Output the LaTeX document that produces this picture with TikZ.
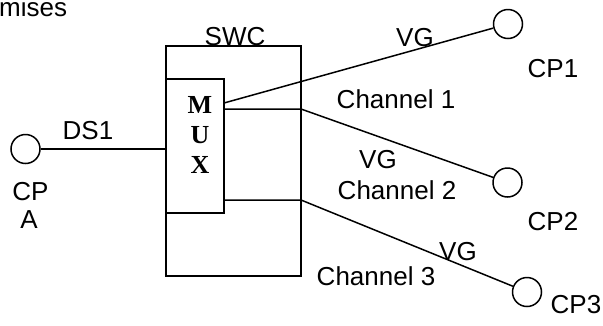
\documentclass[tikz,border=0pt]{standalone}
\usepackage{fontspec}
\setmainfont{Liberation Sans}
\newfontfamily\tnr{Liberation Serif}
\begin{document}
\begin{tikzpicture}[x=1pt,y=-1pt,
  lbl/.style={anchor=base,inner sep=0pt,font=\fontsize{26}{30}\selectfont},
  muxl/.style={anchor=base,inner sep=0pt,font=\tnr\bfseries\fontsize{26}{30}\selectfont},
  cp/.style={draw,circle,minimum size=29,inner sep=0pt,line width=1.5pt},
  box/.style={draw,rectangle,inner sep=0pt,line width=1.5pt},
  wire/.style={line width=1.5pt}]
\useasboundingbox (0,0) rectangle (603,325);
% boxes
\node[box,minimum width=135,minimum height=230] (swc) at (233.5,161) {};
\node[box,minimum width=58,minimum height=134] (mux) at (195,146) {};
% circles
\node[cp] (cpA) at (25.5,149) {};
\node[cp] (cp1) at (508,24) {};
\node[cp] (cp2) at (507.5,182.5) {};
\node[cp] (cp3) at (527,292) {};
% connection points
\coordinate (m1) at (224,103);
\coordinate (m2) at (224,109);
\coordinate (s2) at (301,109);
\coordinate (m3) at (224,200);
\coordinate (s3) at (301,200);
% wires
\draw[wire] (cpA) -- (cpA.center -| swc.west);
\draw[wire] (m1) -- (cp1);
\draw[wire] (m2) -- (s2) -- (cp2);
\draw[wire] (m3) -- (s3) -- (cp3);
% labels
\node[lbl,anchor=base west] (prem) at (-1,16) {mises};
\node[lbl] (tswc) at (235,45) {SWC};
\node[lbl] (tds1) at (88,139) {DS1};
\node[lbl] (tcp) at (30.5,200) {CP};
\node[lbl] (ta) at (29,228) {A};
\node[lbl] (vg1) at (415,46) {VG};
\node[lbl] (tcp1) at (553,77) {CP1};
\node[lbl] (ch1) at (396,108) {Channel 1};
\node[lbl] (vg2) at (378,168) {VG};
\node[lbl] (ch2) at (397,199) {Channel 2};
\node[lbl] (tcp2) at (553,230) {CP2};
\node[lbl] (vg3) at (458,260) {VG};
\node[lbl] (ch3) at (376,285) {Channel 3};
\node[lbl] (tcp3) at (576,313) {CP3};
\node[muxl] (mm) at (200,113) {M};
\node[muxl] (mu) at (200,143) {U};
\node[muxl] (mx) at (200,173) {X};
\end{tikzpicture}
\end{document}
